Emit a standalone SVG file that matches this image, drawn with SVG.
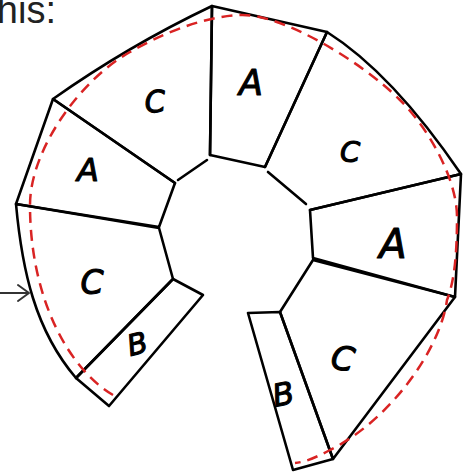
<svg xmlns="http://www.w3.org/2000/svg" width="474" height="474" viewBox="0 0 474 474">
<style>
.seg{fill:none;stroke:#000;stroke-width:2.6;stroke-linejoin:round;stroke-linecap:round}
.lbl{font-family:"DejaVu Sans",sans-serif;font-style:oblique;fill:#000;stroke:#000;stroke-width:1.1;stroke-linejoin:round;text-anchor:middle}
.dash{fill:none;stroke:#d92323;stroke-width:2.5;stroke-dasharray:11 7}
</style>
<rect width="474" height="474" fill="#fff"/>
<text x="56" y="23" font-family="Liberation Sans, Arial, sans-serif" font-size="38" fill="#222" text-anchor="end">this:</text>
<g id="arrow" stroke="#333" stroke-width="2" fill="none" stroke-linecap="round" stroke-linejoin="round">
<line x1="0" y1="293" x2="28" y2="293"/>
<polyline points="18,285 29,293 18,301"/>
</g>
<g id="seg-b-left"><path class="seg" d="M76,378 L109,406 L203,295 L173,279 Z"/><text class="lbl" x="137" y="354" font-size="29" transform="rotate(-15 137 343)">B</text></g>
<g id="seg-c-left"><path class="seg" d="M16,204 C22,270 35,330 76,378 L173,279 L159,228 Z"/><text class="lbl" x="92" y="294" font-size="33">C</text></g>
<g id="seg-a-left"><path class="seg" d="M53,99 L16,204 L159,227 L175,183 Z"/><text class="lbl" x="88" y="181" font-size="32">A</text></g>
<g id="seg-c-topleft"><path class="seg" d="M175,183 L53,99 Q128,46 212,6 L210,155 M207,160 L178,180"/><text class="lbl" x="155" y="112" font-size="30" transform="rotate(-5 155 102)">C</text></g>
<g id="seg-a-top"><path class="seg" d="M212,6 L327,32 L265,167 L210,155 Z"/><text class="lbl" x="251" y="95" font-size="35">A</text></g>
<g id="seg-c-right"><path class="seg" d="M265,167 L327,32 Q392,73 461,174 L310,210 M306,204 L268,172"/><text class="lbl" x="350" y="162" font-size="29">C</text></g>
<g id="seg-a-right"><path class="seg" d="M461,174 L455,297 L313,258 L310,210 Z"/><text class="lbl" x="393" y="258" font-size="40">A</text></g>
<g id="seg-c-bottomright"><path class="seg" d="M455,297 L333,459 L280,312 L313,260 Z"/><text class="lbl" x="343" y="370" font-size="33" transform="rotate(10 343 358)">C</text></g>
<g id="seg-b-right"><path class="seg" d="M280,312 L333,459 L293,470 L248,313 Z"/><text class="lbl" x="283" y="405" font-size="31" transform="rotate(-12 283 393)">B</text></g>
<g id="connectors">
<path class="dash" d="M113,395 C70,370 30,300 30,205 C30,150 80,80 130,52 C160,35 200,17 240,15 C280,13 360,60 400,100 C430,130 457,180 457,217 C457,250 455,280 447,300 C440,350 390,420 330,450 C315,458 305,462 295,463"/>
</g>
</svg>
